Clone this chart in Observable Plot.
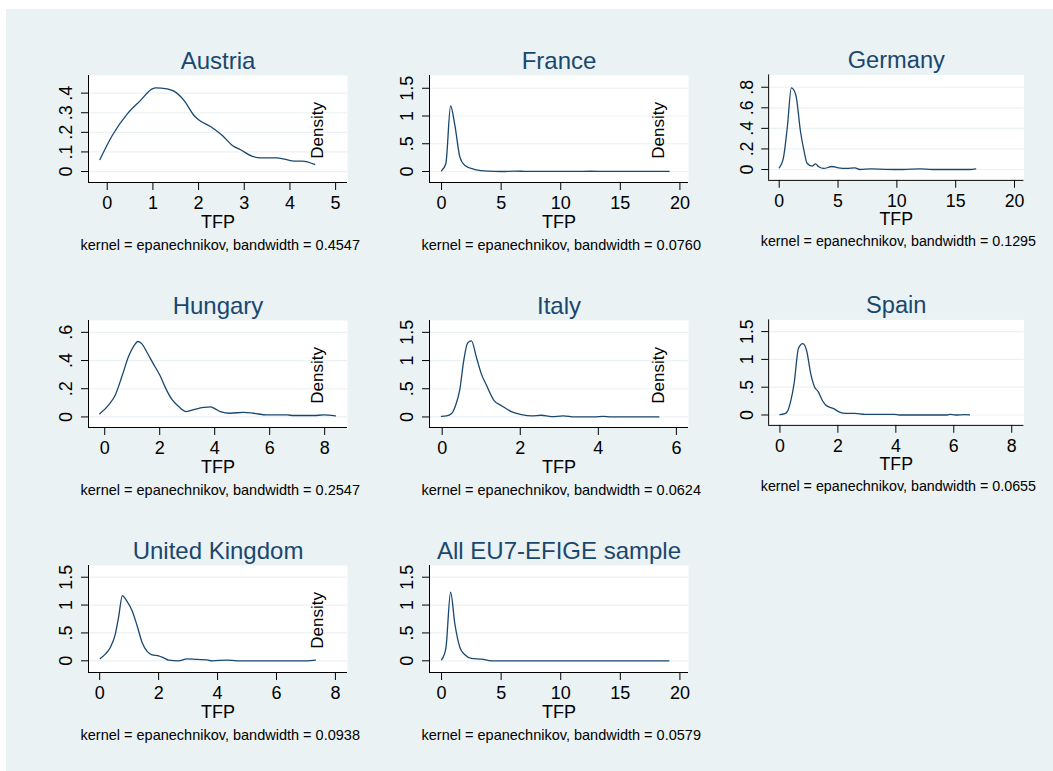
<!DOCTYPE html>
<html><head><meta charset="utf-8">
<script src="https://cdn.jsdelivr.net/npm/d3@7"></script>
<script src="https://cdn.jsdelivr.net/npm/@observablehq/plot@0.6"></script>
<style>
body{margin:0;background:#fff;width:1053px;height:771px;overflow:hidden;position:relative;}
#bg{position:absolute;left:6px;top:9px;width:1047px;height:762px;background:#eaf2f3;}
.panel{position:absolute;}
</style></head><body><div id="bg"></div><div id="root"></div>
<script>
// ---- data ----
const titles = ["Austria","France","Germany","Hungary","Italy","Spain","United Kingdom","All EU7-EFIGE sample"];
const bandwidths = ["0.4547","0.0760","0.1295","0.2547","0.0624","0.0655","0.0938","0.0579"];
const showDensityLabel = [true,true,false,true,true,false,true,false];

const austriaX = [-0.16,0.11,0.44,0.73,0.985,1.06,1.31,1.46,1.68,1.90,2.0,2.26,2.52,2.74,2.92,3.18,3.36,3.72,4.09,4.27,4.54];
const austriaY = [0.061,0.184,0.294,0.363,0.422,0.427,0.422,0.41,0.363,0.286,0.264,0.23,0.184,0.133,0.111,0.077,0.07,0.07,0.053,0.053,0.036];

const franceX = [0,0.36,0.76,1.12,1.54,1.96,2.8,3.9,5.0,6.15,7.0,8.5,10.0,11.2,12.5,14.0,15.0,16.5,18.0,19.1];
const franceY = [0.012,0.14,1.18,0.83,0.26,0.11,0.036,0.006,0,0.006,0.004,0.002,0.003,0.001,0.005,0.001,0.002,0.001,0.004,0.004];

const germanyX = [0,0.36,0.7,1.03,1.40,1.82,2.1,2.38,2.8,3.08,3.36,3.78,4.48,5.03,5.73,6.43,6.85,7.8,9.0,10.5,12.0,13.0,16.2,16.7];
const germanyY = [0.016,0.115,0.426,0.794,0.73,0.36,0.186,0.058,0.032,0.054,0.026,0.01,0.029,0.016,0.01,0.016,0,0.006,0.002,0,0.006,0,0,0.006];

const hungaryX = [-0.18,0.145,0.39,0.63,0.87,1.05,1.21,1.36,1.54,1.78,2.02,2.21,2.45,2.69,2.96,3.30,3.6,3.84,4.02,4.2,4.57,5.05,5.42,5.9,6.63,6.87,7.6,7.96,8.39];
const hungaryY = [0.022,0.086,0.158,0.29,0.43,0.50,0.535,0.516,0.457,0.373,0.29,0.206,0.122,0.074,0.038,0.055,0.067,0.072,0.057,0.038,0.026,0.033,0.026,0.014,0.014,0.01,0.01,0.014,0.007];

const italyX = [-0.02,0.11,0.24,0.34,0.45,0.55,0.65,0.75,0.88,1.01,1.13,1.33,1.52,1.77,2.03,2.29,2.54,2.8,3.1,3.4,3.9,4.12,4.33,5.55];
const italyY = [0.012,0.018,0.06,0.2,0.48,0.99,1.31,1.35,1.05,0.75,0.57,0.29,0.2,0.096,0.042,0.018,0.03,0.006,0.018,0,0,0.012,0,0];

const spainX = [0,0.15,0.26,0.37,0.49,0.64,0.79,0.92,1.06,1.20,1.32,1.45,1.57,1.85,2.08,2.25,2.59,2.93,3.95,4.12,5.77,5.88,6.05,6.39,6.54];
const spainY = [0.006,0.018,0.066,0.245,0.57,1.2,1.285,1.16,0.75,0.50,0.42,0.275,0.185,0.114,0.048,0.03,0.03,0.012,0.012,0,0,0.012,0,0.006,0];

const ukX = [0.02,0.19,0.36,0.53,0.64,0.77,0.90,1.10,1.27,1.44,1.61,1.78,2.0,2.19,2.34,2.68,2.96,3.30,3.64,3.81,4.32,4.66,7.04,7.32];
const ukY = [0.042,0.12,0.24,0.48,0.78,1.17,1.09,0.9,0.63,0.33,0.168,0.108,0.09,0.048,0.012,0,0.036,0.024,0.018,0,0.012,0,0,0.012];

const eu7X = [0,0.36,0.76,1.12,1.54,1.96,2.52,3.36,4.2,19.08];
const eu7Y = [0.018,0.22,1.23,0.66,0.24,0.108,0.042,0.03,0,0];

const seriesX = [austriaX,franceX,germanyX,hungaryX,italyX,spainX,ukX,eu7X];
const seriesY = [austriaY,franceY,germanyY,hungaryY,italyY,spainY,ukY,eu7Y];

// tick values
const xTicks = [[0,1,2,3,4,5],[0,5,10,15,20],[0,5,10,15,20],[0,2,4,6,8],[0,2,4,6],[0,2,4,6,8],[0,2,4,6,8],[0,5,10,15,20]];
const yTicks = [[0,0.1,0.2,0.3,0.4],[0,0.5,1,1.5],[0,0.2,0.4,0.6,0.8],[0,0.2,0.4,0.6],[0,0.5,1,1.5],[0,0.5,1,1.5],[0,0.5,1,1.5],[0,0.5,1,1.5]];
const xLabel = "TFP";
const yLabel = "Density";

// ---- scale domains (axis extents) ----
const xDomains = [[-0.41,5.26],[-1.01,20.72],[-0.9,20.8],[-0.59,8.83],[-0.325,6.31],[-0.39,8.42],[-0.38,8.41],[-1.01,20.72]];
const yDomains = [[-0.056,0.49],[-0.198,1.73],[-0.106,0.92],[-0.075,0.684],[-0.187,1.71],[-0.187,1.71],[-0.21,1.71],[-0.21,1.71]];

// ---- layout ----
const colLeft = [88, 428.5, 769];
const rowTop = [75, 319.5, 565];
const plotW = 259, plotH = 107;
const ML = 60, MR = 30, MT = 40, MB = 75;
const FONT = "Liberation Sans, Arial, Helvetica, sans-serif";
const NAVY = "#1a476f";
const GRID = "#eaf2f3";

const fmtY = d => d === 0 ? "0" : String(d).replace(/^0\./, ".");

const root = document.getElementById("root");
titles.forEach((title, i) => {
  const col = i % 3, row = Math.floor(i / 3);
  const data = seriesX[i].map((x, j) => ({x, y: seriesY[i][j]}));
  const [x0] = xDomains[i];
  const [y0] = yDomains[i];
  const marks = [
    Plot.frame({fill: "white", stroke: "none"}),
    Plot.ruleY(yTicks[i], {stroke: GRID, strokeWidth: 1.2}),
    Plot.line(data, {x: "x", y: "y", stroke: NAVY, strokeWidth: 1.3, curve: "monotone-x"}),
    Plot.ruleX([x0], {stroke: "#000", strokeWidth: 1}),
    Plot.ruleY([y0], {stroke: "#000", strokeWidth: 1}),
    Plot.axisX(xTicks[i], {tickSize: 8, tickPadding: 6, fontSize: 18, label: null, tickFormat: d => String(d)}),
    Plot.axisY(yTicks[i], {tickSize: 7, tickFormat: () => "", label: null}),
    Plot.text(yTicks[i], {frameAnchor: "left", y: d => d, text: fmtY, rotate: -90, dx: -16.3, textAnchor: "middle", lineAnchor: "bottom", fontSize: 18, fill: "#000"}),
    Plot.text([xLabel], {frameAnchor: "bottom", dy: 45, lineAnchor: "bottom", fontSize: 18, fill: "#000"}),
    Plot.text([title], {frameAnchor: "top", dy: -7, lineAnchor: "bottom", fontSize: 24, fill: NAVY}),
    Plot.text([`kernel = epanechnikov, bandwidth = ${bandwidths[i]}`], {frameAnchor: "bottom-left", dx: -8, dy: 67, textAnchor: "start", lineAnchor: "bottom", fontSize: 14.5, fill: "#000"})
  ];
  if (showDensityLabel[i]) {
    marks.push(Plot.text([yLabel], {frameAnchor: "bottom-right", rotate: -90, dx: -24.5, dy: -23.7, textAnchor: "start", lineAnchor: "bottom", fontSize: 17, fill: "#000"}));
  }
  const svg = Plot.plot({
    width: plotW + ML + MR,
    height: plotH + MT + MB,
    marginLeft: ML, marginRight: MR, marginTop: MT, marginBottom: MB,
    x: {domain: xDomains[i]},
    y: {domain: yDomains[i]},
    style: {fontFamily: FONT, background: "transparent", overflow: "visible", color: "#000"},
    marks
  });
  const div = document.createElement("div");
  div.className = "panel";
  div.style.left = (colLeft[col] - ML) + "px";
  div.style.top = (rowTop[row] - MT) + "px";
  div.appendChild(svg);
  root.appendChild(div);
});
</script>
</body></html>
